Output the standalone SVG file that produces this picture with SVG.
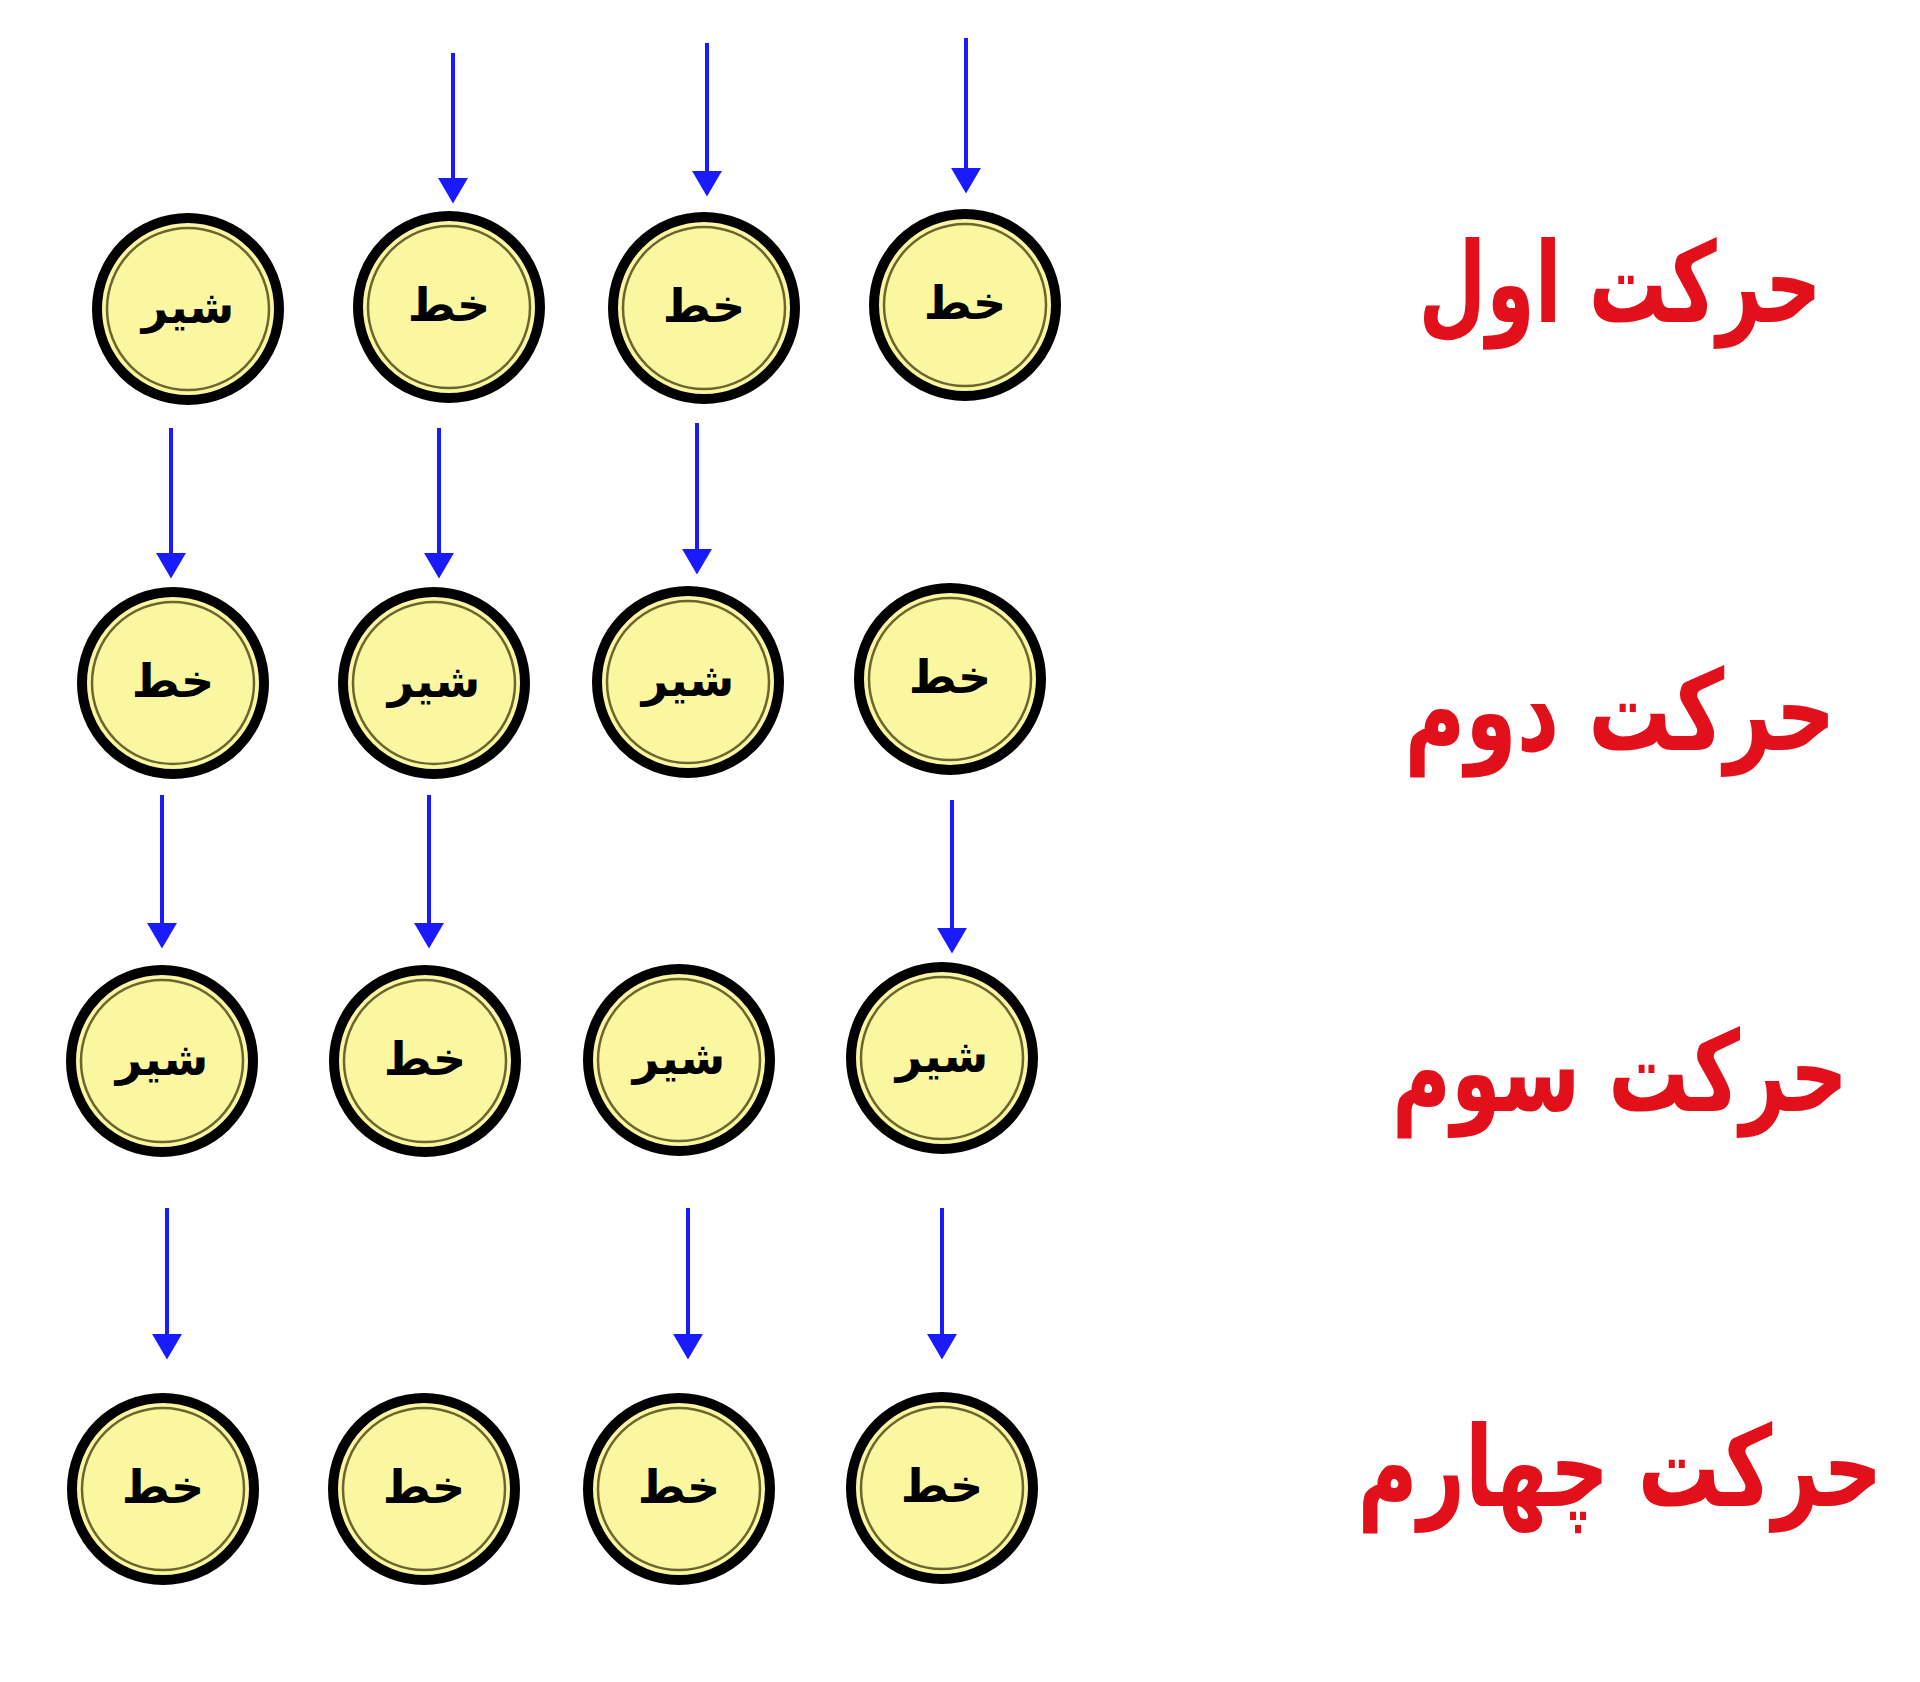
<svg xmlns="http://www.w3.org/2000/svg" width="1920" height="1682" viewBox="0 0 1920 1682">
<defs>
<style>
.ring{fill:#FBF7A0;stroke:#000;stroke-width:10}
.inner{fill:none;stroke:#6b6530;stroke-width:2.5}
.lbl{font-family:"DejaVu Sans","Noto Sans",sans-serif;font-weight:bold;font-size:46px;fill:#000;text-anchor:middle}
.title{font-family:"DejaVu Sans","Noto Sans",sans-serif;font-weight:bold;font-size:112px;fill:#E2101A;text-anchor:middle}
.arr{stroke:#1a1aff;stroke-width:4;fill:none;marker-end:url(#ah)}
</style>
<marker id="ah" markerUnits="userSpaceOnUse" markerWidth="30" markerHeight="32" viewBox="0 -15 26 30" refX="0" refY="0" orient="auto">
<path d="M0,-14 L24,0 L0,14 Z" fill="#1a1aff"/>
</marker>
</defs>
<rect width="1920" height="1682" fill="#fff"/>
<g id="connectors">
<path class="arr" d="M453,53 V178"/>
<path class="arr" d="M707,43 V171"/>
<path class="arr" d="M966,38 V168"/>
<path class="arr" d="M171,428 V553"/>
<path class="arr" d="M439,428 V553"/>
<path class="arr" d="M697,423 V549"/>
<path class="arr" d="M162,795 V923"/>
<path class="arr" d="M429,795 V923"/>
<path class="arr" d="M952,800 V928"/>
<path class="arr" d="M167,1208 V1334"/>
<path class="arr" d="M688,1208 V1334"/>
<path class="arr" d="M942,1208 V1334"/>
</g>
<g id="n11"><circle class="ring" cx="188" cy="309" r="91"/><circle class="inner" cx="188" cy="309" r="81"/><text class="lbl" x="188" y="323">شیر</text></g>
<g id="n12"><circle class="ring" cx="449" cy="307" r="91"/><circle class="inner" cx="449" cy="307" r="81"/><text class="lbl" x="449" y="321">خط</text></g>
<g id="n13"><circle class="ring" cx="704" cy="308" r="91"/><circle class="inner" cx="704" cy="308" r="81"/><text class="lbl" x="704" y="322">خط</text></g>
<g id="n14"><circle class="ring" cx="965" cy="305" r="91"/><circle class="inner" cx="965" cy="305" r="81"/><text class="lbl" x="965" y="319">خط</text></g>
<g id="n21"><circle class="ring" cx="173" cy="683" r="91"/><circle class="inner" cx="173" cy="683" r="81"/><text class="lbl" x="173" y="697">خط</text></g>
<g id="n22"><circle class="ring" cx="434" cy="683" r="91"/><circle class="inner" cx="434" cy="683" r="81"/><text class="lbl" x="434" y="697">شیر</text></g>
<g id="n23"><circle class="ring" cx="688" cy="682" r="91"/><circle class="inner" cx="688" cy="682" r="81"/><text class="lbl" x="688" y="696">شیر</text></g>
<g id="n24"><circle class="ring" cx="950" cy="679" r="91"/><circle class="inner" cx="950" cy="679" r="81"/><text class="lbl" x="950" y="693">خط</text></g>
<g id="n31"><circle class="ring" cx="162" cy="1061" r="91"/><circle class="inner" cx="162" cy="1061" r="81"/><text class="lbl" x="162" y="1075">شیر</text></g>
<g id="n32"><circle class="ring" cx="425" cy="1061" r="91"/><circle class="inner" cx="425" cy="1061" r="81"/><text class="lbl" x="425" y="1075">خط</text></g>
<g id="n33"><circle class="ring" cx="679" cy="1060" r="91"/><circle class="inner" cx="679" cy="1060" r="81"/><text class="lbl" x="679" y="1074">شیر</text></g>
<g id="n34"><circle class="ring" cx="942" cy="1058" r="91"/><circle class="inner" cx="942" cy="1058" r="81"/><text class="lbl" x="942" y="1072">شیر</text></g>
<g id="n41"><circle class="ring" cx="163" cy="1489" r="91"/><circle class="inner" cx="163" cy="1489" r="81"/><text class="lbl" x="163" y="1503">خط</text></g>
<g id="n42"><circle class="ring" cx="424" cy="1489" r="91"/><circle class="inner" cx="424" cy="1489" r="81"/><text class="lbl" x="424" y="1503">خط</text></g>
<g id="n43"><circle class="ring" cx="679" cy="1489" r="91"/><circle class="inner" cx="679" cy="1489" r="81"/><text class="lbl" x="679" y="1503">خط</text></g>
<g id="n44"><circle class="ring" cx="942" cy="1488" r="91"/><circle class="inner" cx="942" cy="1488" r="81"/><text class="lbl" x="942" y="1502">خط</text></g>
<g id="titles">
<text class="title" x="1620" y="322" textLength="403" lengthAdjust="spacingAndGlyphs">حرکت اول</text>
<text class="title" x="1620" y="750" textLength="431" lengthAdjust="spacingAndGlyphs">حرکت دوم</text>
<text class="title" x="1620" y="1111" textLength="456" lengthAdjust="spacingAndGlyphs">حرکت سوم</text>
<text class="title" x="1620" y="1506" textLength="525" lengthAdjust="spacingAndGlyphs">حرکت چهارم</text>
</g>
</svg>
